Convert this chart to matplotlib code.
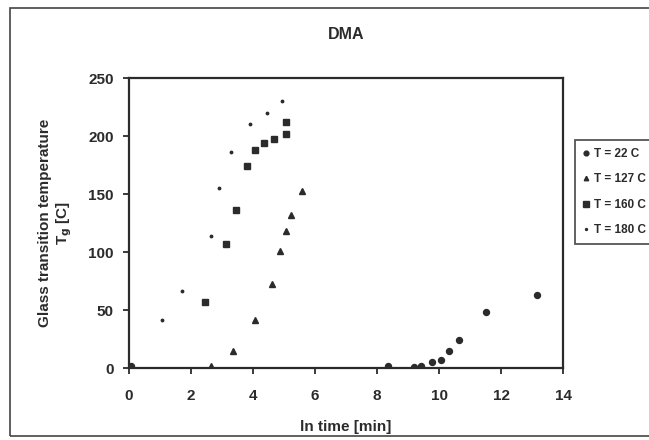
import matplotlib
matplotlib.use('Agg')
from matplotlib import pyplot as plt
from matplotlib.patches import Rectangle

# T = 22 C
t22_x = [0.05, 8.35, 9.18, 9.42, 9.79, 10.06, 10.32, 10.66, 11.53, 13.15]
t22_y = [2, 2, 1, 2, 5, 7, 15, 24, 48, 63]

# T = 127 C
t127_x = [2.66, 3.36, 4.05, 4.62, 4.87, 5.06, 5.21, 5.59]
t127_y = [2, 15, 41, 72, 101, 118, 132, 153]

# T = 160 C
t160_x = [2.44, 3.12, 3.44, 3.82, 4.08, 4.34, 4.69, 5.07, 5.07]
t160_y = [57, 107, 136, 174, 188, 194, 197, 202, 212]

# T = 180 C
t180_x = [1.07, 1.72, 2.64, 2.90, 3.30, 3.90, 4.46, 4.95]
t180_y = [41, 66, 114, 155, 186, 210, 220, 230]

xticks = [0, 2, 4, 6, 8, 10, 12, 14]
yticks = [0, 50, 100, 150, 200, 250]

plt.rcParams['font.family'] = ['Liberation Sans', 'DejaVu Sans']
plt.rcParams['font.weight'] = 'bold'

ink = '#2b2b2b'


def plot_data():
    fig = plt.figure(figsize=(6.49, 4.40), dpi=100)
    # outer chart border, cut off on the right like the scan
    fig.patches.append(Rectangle((10 / 649, 4 / 440), 1.0, 428 / 440,
                                 transform=fig.transFigure, fill=False,
                                 edgecolor='#444444', linewidth=1.2))
    ax = fig.add_axes([129 / 649, 1 - 368 / 440, 434 / 649, 290 / 440])

    ax.plot(t22_x, t22_y, 'o', color=ink, markersize=4.3, label='T = 22 C')
    ax.plot(t127_x, t127_y, '^', color=ink, markersize=4, label='T = 127 C')
    ax.plot(t160_x, t160_y, 's', color=ink, markersize=5, label='T = 160 C')
    ax.plot(t180_x, t180_y, '.', color=ink, markersize=3.5, label='T = 180 C')

    ax.set_xlim(0, 14)
    ax.set_ylim(0, 250)
    ax.set_xticks(xticks)
    ax.set_yticks(yticks)
    ax.tick_params(direction='out', length=4, width=1.3, colors=ink,
                   labelsize=11, pad=7)
    ax.tick_params(axis='x', pad=11)
    for s in ax.spines.values():
        s.set_linewidth(1.6)
        s.set_color(ink)

    ax.set_title('DMA', fontsize=11.5, fontweight='bold', color=ink, pad=28)
    ax.set_xlabel('ln time [min]', fontsize=11, fontweight='bold', color=ink,
                  labelpad=12)
    ax.set_ylabel('Glass transition temperature\nT$_\\mathbf{g}$ [C]',
                  fontsize=11, fontweight='bold', color=ink, labelpad=10,
                  linespacing=1.25)

    leg = fig.legend(loc='upper left', bbox_to_anchor=(575 / 649, 1 - 140 / 440),
                     borderaxespad=0, frameon=True, fancybox=False,
                     fontsize=8.5, handlelength=0.6, handletextpad=0.4,
                     labelspacing=1.15, borderpad=0.65, markerscale=0.8)
    leg.get_frame().set_edgecolor(ink)
    leg.get_frame().set_linewidth(1.3)
    for t in leg.get_texts():
        t.set_color(ink)

    fig.savefig('out.png', dpi=100)


def main():
    plot_data()


if __name__ == '__main__':
    main()
